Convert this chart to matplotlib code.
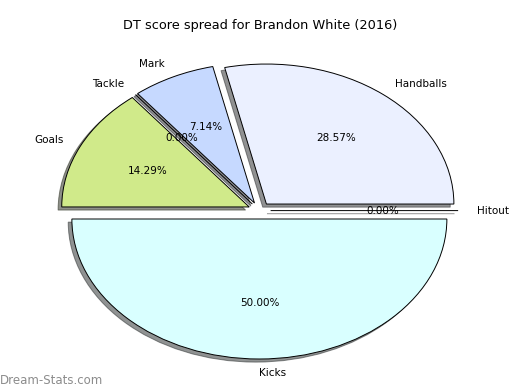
import matplotlib
matplotlib.use('Agg')
import matplotlib.pyplot as plt

# slice data, counter-clockwise from 0 degrees
labels = ['Handballs', 'Mark', 'Tackle', 'Goals', 'Kicks', 'Hitout']
counts = [4, 1, 0, 2, 7, 0]
colors = ['#ebf0ff', '#c6d9ff', '#d8ffff', '#d0ea8a', '#d9ffff', '#ffffff']
explode = [0.06] * len(counts)

title = 'DT score spread for Brandon White (2016)'
watermark = 'Dream-Stats.com'

fig = plt.figure(figsize=(5.2, 3.9), dpi=100)
ax = fig.add_axes([25 / 520, 4.4 / 390, 468.75 / 520, 350 / 390])

wedges, texts, autotexts = ax.pie(counts, labels=labels, colors=colors, explode=explode,
                                  autopct='%.2f%%', startangle=0,
                                  shadow={'ox': -0.014, 'oy': -0.016, 'shade': 0.85},
                                  wedgeprops={'edgecolor': 'black', 'linewidth': 0.7},
                                  textprops={'fontsize': 7.5})
ax.set_aspect('auto')
ax.set_xlim(-1.25, 1.25)
ax.set_ylim(-1.25, 1.25)

fig.text(0.5, 1 - 26 / 390, title, ha='center', va='center', fontsize=9.25)
fig.text(0.0, 1 - 380 / 390, watermark, ha='left', va='center', fontsize=8.5,
         color='#8c8c8c')

fig.savefig('out.png', dpi=100)
